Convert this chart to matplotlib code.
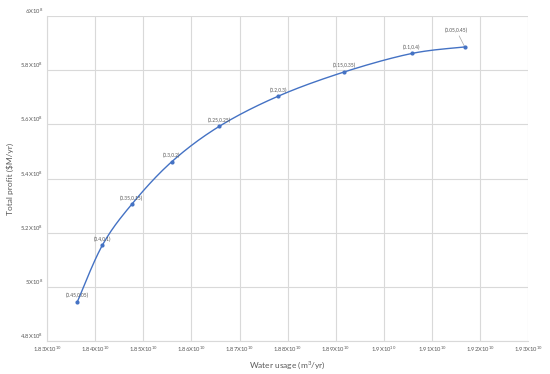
import numpy as np
import matplotlib
matplotlib.use('Agg')
import matplotlib.pyplot as plt

plt.rcParams['font.family'] = ['Lato', 'DejaVu Sans']
plt.rcParams['mathtext.fontset'] = 'custom'
plt.rcParams['mathtext.rm'] = 'Lato'
plt.rcParams['mathtext.it'] = 'Lato:italic'

# data (water usage in 1e10 m3/yr, profit in 1e8 $/yr)
water_usage = [1.8363, 1.8415, 1.8476, 1.8559, 1.8658, 1.8780, 1.8918, 1.9058, 1.9168]
total_profit = [4.945, 5.154, 5.305, 5.462, 5.593, 5.704, 5.794, 5.862, 5.886]
point_labels = ['(0.45,0.05)', '(0.4,0.1)', '(0.35,0.15)', '(0.3,0.2)', '(0.25,0.25)',
                '(0.2,0.3)', '(0.15,0.35)', '(0.1,0.4)', '(0.05,0.45)']

x_ticks = [1.83, 1.84, 1.85, 1.86, 1.87, 1.88, 1.89, 1.90, 1.91, 1.92, 1.93]
x_tick_labels = ['1.83', '1.84', '1.85', '1.86', '1.87', '1.88', '1.89', '1.9', '1.91', '1.92', '1.93']
y_ticks = [4.8, 5.0, 5.2, 5.4, 5.6, 5.8, 6.0]
y_tick_labels = ['4.8', '5', '5.2', '5.4', '5.6', '5.8', '6']

LINE = '#4472C4'
GRID = '#d9d9d9'
TEXT = '#595959'


def smooth(xs, ys, n=20):
    # catmull-rom path through the points, like excel's smoothed line
    px = [xs[0]] + list(xs) + [xs[-1]]
    py = [ys[0]] + list(ys) + [ys[-1]]
    ox, oy = [], []
    t = np.linspace(0, 1, n)
    for i in range(1, len(px) - 2):
        for p, o in ((px, ox), (py, oy)):
            p0, p1, p2, p3 = p[i - 1], p[i], p[i + 1], p[i + 2]
            o.extend(0.5 * (2 * p1 + (-p0 + p2) * t + (2 * p0 - 5 * p1 + 4 * p2 - p3) * t ** 2
                            + (-p0 + 3 * p1 - 3 * p2 + p3) * t ** 3))
    return ox, oy


fig = plt.figure(figsize=(5.5, 3.74), dpi=100)
ax = fig.add_axes([0.0855, 0.088, 0.875, 0.869])

sx, sy = smooth(water_usage, total_profit)
ax.plot(sx, sy, color=LINE, lw=1.0, zorder=3)
ax.plot(water_usage, total_profit, 'o', color=LINE, ms=2.0, zorder=4)

for i, (x, y, lab) in enumerate(zip(water_usage, total_profit, point_labels)):
    if i == len(point_labels) - 1:
        ax.annotate(lab, xy=(x, y), xytext=(-6, 10), textcoords='offset points',
                    ha='center', va='bottom', fontsize=3.5, color=TEXT,
                    arrowprops=dict(arrowstyle='-', color='#a6a6a6', lw=0.5,
                                    shrinkA=0, shrinkB=1))
    else:
        ax.annotate(lab, xy=(x, y), xytext=(0, 2.5), textcoords='offset points',
                    ha='center', va='bottom', fontsize=3.5, color=TEXT)

ax.set_xlim(1.83, 1.93)
ax.set_ylim(4.8, 6.0)
ax.set_xticks(x_ticks)
ax.set_xticklabels([s + r'X10$^{10}$' for s in x_tick_labels])
ax.set_yticks(y_ticks)
ax.set_yticklabels([s + r'X10$^{8}$' for s in y_tick_labels], va='bottom')
ax.tick_params(length=0, labelsize=4.2, colors=TEXT, pad=2.5)
ax.grid(True, color=GRID, lw=0.8)
ax.set_axisbelow(True)
for side in ['top', 'right']:
    ax.spines[side].set_visible(False)
for side in ['left', 'bottom']:
    ax.spines[side].set_color(GRID)
    ax.spines[side].set_linewidth(0.8)

ax.set_xlabel(r'Water usage (m$^{3}$/yr)', fontsize=6, color=TEXT, labelpad=4)
ax.set_ylabel('Total profit ($M/yr)', fontsize=6, color=TEXT, labelpad=5)

fig.savefig('out.png', dpi=100)
